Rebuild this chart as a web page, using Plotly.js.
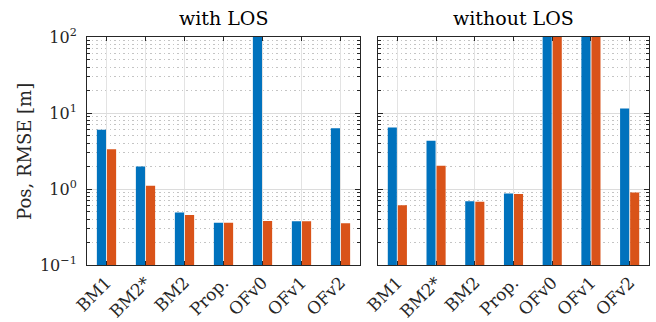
<!DOCTYPE html>
<html>
<head>
<meta charset="utf-8">
<script src="https://cdn.plot.ly/plotly-3.0.1.min.js"></script>
<style>html,body{margin:0;padding:0;background:#fff;}#chart{width:656px;height:322px;}</style>
</head>
<body>
<div id="chart"></div>
<script>
const categories = ["BM1", "BM2*", "BM2", "Prop.", "OFv0", "OFv1", "OFv2"];
const withLosA = [6.0, 1.97, 0.49, 0.36, 1000, 0.375, 6.3];
const withLosB = [3.33, 1.1, 0.455, 0.36, 0.38, 0.375, 0.355];
const withoutLosA = [6.45, 4.3, 0.69, 0.87, 1000, 1000, 11.5];
const withoutLosB = [0.61, 2.03, 0.68, 0.86, 1000, 1000, 0.9];
const panelTitles = ["with LOS", "without LOS"];
const yLabel = "Pos, RMSE [m]";
const yTickVals = [0.1, 1, 10, 100];
const yTickText = ["10<sup>\u22121</sup>", "10<sup>0</sup>", "10<sup>1</sup>", "10<sup>2</sup>"];
const yMinorVals = [0.2,0.3,0.4,0.5,0.6,0.7,0.8,0.9,2,3,4,5,6,7,8,9,20,30,40,50,60,70,80,90];

const blue = "#0072BD", orange = "#D95319";
const FONT = "DejaVu Serif, Liberation Serif, serif";
const idx = categories.map((_, i) => i);

function bar(y, color, xa, ya) {
  return {type: "bar", x: idx, y: y, xaxis: xa, yaxis: ya,
    marker: {color: color, line: {width: 0}}, showlegend: false, hoverinfo: "skip"};
}

const traces = [
  bar(withLosA, blue, "x", "y"), bar(withLosB, orange, "x", "y"),
  bar(withoutLosA, blue, "x2", "y2"), bar(withoutLosB, orange, "x2", "y2")
];

const axisLine = "#262626";
function xaxis(domain, anchor) {
  return {domain: domain, anchor: anchor, range: [-0.5, 6.5],
    tickmode: "array", tickvals: idx, ticktext: categories, tickangle: -45,
    ticks: "inside", ticklen: 4, tickcolor: axisLine, tickwidth: 1,
    showline: true, linecolor: axisLine, linewidth: 1, mirror: "allticks",
    showgrid: true, gridcolor: "#e3e3e3", gridwidth: 1, zeroline: false,
    tickfont: {family: FONT, size: 17, color: "#262626"}, fixedrange: true};
}
function yaxis(domain, anchor, showLabels) {
  return {domain: domain, anchor: anchor, type: "log", range: [-1, 2],
    tickmode: "array", tickvals: yTickVals, ticktext: yTickText,
    showticklabels: showLabels,
    ticks: "inside", ticklen: 5, tickcolor: axisLine, tickwidth: 1,
    showline: true, linecolor: axisLine, linewidth: 1, mirror: "allticks",
    showgrid: true, gridcolor: "#dcdcdc", gridwidth: 1, zeroline: false,
    minor: {tickvals: yMinorVals,
      ticks: "inside", ticklen: 3, tickcolor: axisLine, showgrid: true, gridcolor: "#c4c4c4", griddash: "1.5px,3px", gridwidth: 1},
    tickfont: {family: FONT, size: 16, color: "#262626"}, ticklabelstandoff: 6, fixedrange: true};
}

const layout = {
  width: 656, height: 322,
  margin: {l: 0, r: 0, t: 0, b: 0},
  paper_bgcolor: "#fff", plot_bgcolor: "#fff",
  barmode: "group", bargap: 0.48, bargroupgap: 0.1,
  xaxis: xaxis([87/656, 360/656], "y"),
  yaxis: yaxis([57/322, 285/322], "x", true),
  xaxis2: xaxis([378/656, 649/656], "y2"),
  yaxis2: yaxis([57/322, 285/322], "x2", false),
  annotations: [
    {text: panelTitles[0], xref: "paper", yref: "paper", x: (87+360)/2/656, y: 1 - 18/322,
     showarrow: false, xanchor: "center", yanchor: "middle", font: {family: FONT, size: 19, color: "#000"}},
    {text: panelTitles[1], xref: "paper", yref: "paper", x: (378+649)/2/656, y: 1 - 18/322,
     showarrow: false, xanchor: "center", yanchor: "middle", font: {family: FONT, size: 19, color: "#000"}},
    {text: yLabel, xref: "paper", yref: "paper", x: 24/656, y: 1 - 152/322, textangle: -90,
     showarrow: false, xanchor: "center", yanchor: "middle", font: {family: FONT, size: 18, color: "#262626"}}
  ]
};

Plotly.newPlot("chart", traces, layout, {staticPlot: true, displayModeBar: false});
</script>
</body>
</html>
